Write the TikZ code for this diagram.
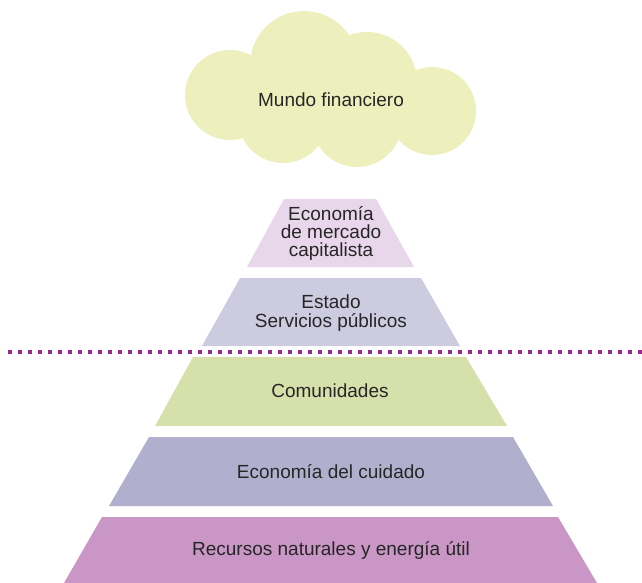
\documentclass[tikz,border=0pt]{standalone}
\usepackage{fontspec}
\setmainfont{Liberation Sans}

\definecolor{nubecol}{RGB}{237,240,188}
\definecolor{mercadocol}{RGB}{232,214,234}
\definecolor{estadocol}{RGB}{205,203,224}
\definecolor{comunidadcol}{RGB}{214,224,170}
\definecolor{cuidadocol}{RGB}{176,176,206}
\definecolor{recursocol}{RGB}{201,150,197}
\definecolor{lineacol}{RGB}{155,40,140}

\begin{document}
\begin{tikzpicture}[x=1pt,y=-1pt]
            \tikzstyle{label}=[font=\fontsize{19}{19.5}\selectfont,align=center,text=black!85,inner sep=0pt]
    \useasboundingbox (0,0) rectangle (642,583);
    % nube
    \fill[nubecol] (230,95) circle (45) (304,65) circle (54) (367,82) circle (50)
      (432,111) circle (44) (357,122) circle (45) (283,118) circle (45)
      (330,100) ellipse (70 and 40);
    \node[label] (mundo) at (331,100) {Mundo financiero};
    % piramide
    \fill[mercadocol] (284,199) -- (376,199) -- (414,267) -- (247,267) -- cycle;
    \node[label,font=\fontsize{19}{18}\selectfont] (mercado) at (331,233) {Economía\\de mercado\\capitalista};
    \fill[estadocol] (240,278) -- (421,278) -- (460,346) -- (202,346) -- cycle;
    \node[label] (estado) at (331,313) {Estado\\Servicios públicos};
    \draw[lineacol,line width=4pt,dash pattern=on 4pt off 6pt] (8,352) -- (642,352);
    \fill[comunidadcol] (193,357) -- (466,357) -- (507,426) -- (155,426) -- cycle;
    \node[label] (comunidades) at (330,391) {Comunidades};
    \fill[cuidadocol] (149,437) -- (513,437) -- (553,506) -- (109,506) -- cycle;
    \node[label] (cuidado) at (331,472) {Economía del cuidado};
    \fill[recursocol] (102,517) -- (558,517) -- (597,583) -- (64,583) -- cycle;
    \node[label] (recursos) at (331,550) {Recursos naturales y energía útil};
\end{tikzpicture}
\end{document}
